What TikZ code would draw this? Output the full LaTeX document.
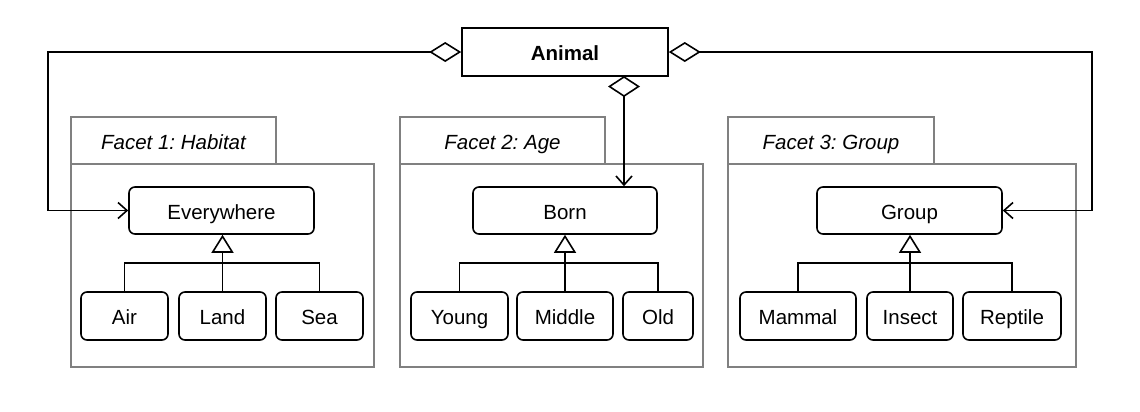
\documentclass[tikz,border=0pt]{standalone}
\usepackage{fontspec}
\setmainfont{Liberation Sans}
\usetikzlibrary{arrows.meta}
\definecolor{facetgray}{HTML}{808080}
\begin{document}
\frenchspacing
\begin{tikzpicture}[x=1bp,y=-1bp,
  every node/.style={inner sep=0pt, text height=17bp, text depth=0bp, font=\fontsize{20.5bp}{24bp}\selectfont},
  cls/.style={draw=black, line width=1.6bp, rounded corners=6bp, fill=white},
  topcls/.style={draw=black, line width=1.6bp, fill=white, font=\fontsize{20.5bp}{24bp}\selectfont\bfseries},
  facet/.style={draw=facetgray, line width=1.6bp},
  facettab/.style={draw=facetgray, line width=1.6bp, font=\fontsize{20.5bp}{24bp}\selectfont\itshape},
  conn/.style={draw=black, line width=1.6bp},
  agg/.style={{Diamond[open,length=32bp,width=20bp,line width=1.6bp]}-{Straight Barb[length=9bp,width=16bp,line width=1.6bp]}},
  aggv/.style={{Diamond[open,length=21bp,width=32bp,line width=1.6bp]}-{Straight Barb[length=9bp,width=16bp,line width=1.6bp]}},
  inh/.style={-{Triangle[open,length=18bp,width=22bp,line width=1.6bp]}},
]
\useasboundingbox (0,0) rectangle (1140,411);
% facets
\node[facettab, minimum width=205bp, minimum height=47bp] (tab1) at (173.5,140.5) {Facet 1: Habitat};
\node[facet, minimum width=303bp, minimum height=203bp] (facet1) at (222.5,265.5) {};
\node[facettab, minimum width=205bp, minimum height=47bp] (tab2) at (502.5,140.5) {Facet 2: Age};
\node[facet, minimum width=303bp, minimum height=203bp] (facet2) at (551.5,265.5) {};
\node[facettab, minimum width=206bp, minimum height=47bp] (tab3) at (831,140.5) {Facet 3: Group};
\node[facet, minimum width=348bp, minimum height=203bp] (facet3) at (902,265.5) {};
% classes
\node[topcls, minimum width=206bp, minimum height=48bp] (animal) at (565,52) {Animal};
\node[cls, minimum width=185bp, minimum height=47bp] (everywhere) at (221.5,210.5) {Everywhere};
\node[cls, minimum width=184bp, minimum height=47bp] (born) at (565,210.5) {Born};
\node[cls, minimum width=185bp, minimum height=47bp] (group) at (909.5,210.5) {Group};
\node[cls, minimum width=87bp, minimum height=48bp] (air) at (124.5,316) {Air};
\node[cls, minimum width=87bp, minimum height=48bp] (land) at (222.5,316) {Land};
\node[cls, minimum width=87bp, minimum height=48bp] (sea) at (319.5,316) {Sea};
\node[cls, minimum width=97bp, minimum height=48bp] (young) at (459.5,316) {Young};
\node[cls, minimum width=96bp, minimum height=48bp] (middle) at (565,316) {Middle};
\node[cls, minimum width=70bp, minimum height=48bp] (old) at (658,316) {Old};
\node[cls, minimum width=116bp, minimum height=48bp] (mammal) at (798,316) {Mammal};
\node[cls, minimum width=86bp, minimum height=48bp] (insect) at (910,316) {Insect};
\node[cls, minimum width=98bp, minimum height=48bp] (reptile) at (1012,316) {Reptile};
% aggregation connectors
\coordinate (lcorner) at (48,52);
\coordinate (rcorner) at (1092,52);
\coordinate (bstart) at (624,76);
\draw[conn, agg] (animal.west) -- (lcorner) |- (everywhere.west);
\draw[conn, agg] (animal.east) -- (rcorner) |- (group.east);
\draw[conn, aggv] (bstart) -- (bstart |- born.north);
% inheritance
\coordinate (j1) at (222.5,263);
\coordinate (j2) at (565,263);
\coordinate (j3) at (910,263);
\draw[conn] (air.north) |- (j1) -| (sea.north);
\draw[conn, inh] (land.north) -- (land.north |- everywhere.south);
\draw[conn] (young.north) |- (j2) -| (old.north);
\draw[conn, inh] (middle.north) -- (middle.north |- born.south);
\draw[conn] (mammal.north) |- (j3) -| (reptile.north);
\draw[conn, inh] (insect.north) -- (insect.north |- group.south);
\end{tikzpicture}
\end{document}
